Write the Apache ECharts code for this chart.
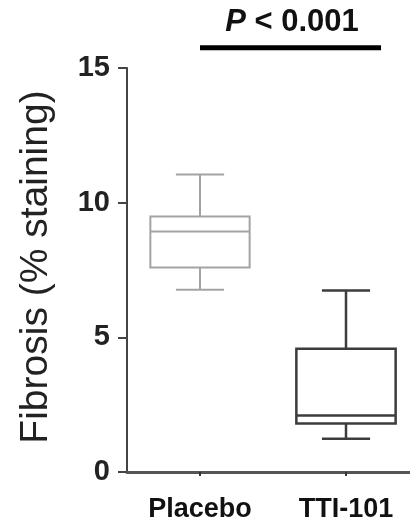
<!DOCTYPE html>
<html><head><meta charset="utf-8">
<script src="https://cdn.jsdelivr.net/npm/echarts@6/dist/echarts.min.js"></script>
<style>html,body{margin:0;padding:0;background:#fff}#c{width:410px;height:525px}</style>
</head><body><div id="c"></div>
<script>
// ---- data ----
const categories = ['Placebo', 'TTI-101'];
const whiskerLow = [6.77, 1.23];
const q1 = [7.59, 1.80];
const median = [8.93, 2.10];
const q3 = [9.49, 4.58];
const whiskerHigh = [11.05, 6.74];
const yMin = 0, yMax = 15, yInterval = 5;
const yAxisTitle = 'Fibrosis (% staining)';
const pText = 'P < 0.001';
const sigBarX = [0, 1.24];
const sigBarY = 15.75;

// ---- styles ----
const boxColors = ['#a3a3a3', '#3c3c3c'];
const boxLineWidths = [2, 2.5];

const boxData = categories.map((c, i) => [i, whiskerLow[i], q1[i], median[i], q3[i], whiskerHigh[i]]);

const chart = echarts.init(document.getElementById('c'), null, {renderer: 'canvas'});
chart.setOption({
  backgroundColor: '#fff',
  animation: false,
  grid: {left: 127, right: -9, top: 68, bottom: 53, outerBoundsMode: 'none', containLabel: false},
  xAxis: [{
    type: 'category', data: categories, boundaryGap: true,
    axisLine: {show: true, onZero: false, lineStyle: {color: '#555', width: 3}},
    axisTick: {show: true, alignWithLabel: true, length: 4, lineStyle: {color: '#333', width: 2}},
    axisLabel: {fontSize: 27, fontWeight: 'bold', color: '#111', margin: 24, fontFamily: 'Liberation Sans'},
    splitLine: {show: false}
  }, {
    type: 'value', min: -0.5, max: 1.5, show: false
  }],
  yAxis: {
    type: 'value', min: yMin, max: yMax, interval: yInterval,
    axisLine: {show: true, onZero: false, lineStyle: {color: '#444', width: 2}},
    axisTick: {show: true, length: 9, lineStyle: {color: '#444', width: 2}},
    axisLabel: {fontSize: 29, fontWeight: 'bold', color: '#222', margin: 17, fontFamily: 'Liberation Sans'},
    splitLine: {show: false}
  },
  graphic: [{
    type: 'text', x: 36, y: 267, rotation: Math.PI / 2,
    style: {text: yAxisTitle, font: '39px "Liberation Sans"', fill: '#222', textAlign: 'center', textVerticalAlign: 'middle'}
  }, {
    type: 'text', x: 292, y: 22,
    style: {
      text: '{i|P}{n|' + pText.slice(1) + '}',
      rich: {
        i: {fontSize: 31, fontWeight: 'bold', fontStyle: 'italic', fontFamily: 'Liberation Sans', fill: '#111'},
        n: {fontSize: 31, fontWeight: 'bold', fontFamily: 'Liberation Sans', fill: '#111'}
      },
      textAlign: 'center', textVerticalAlign: 'middle'
    }
  }],
  series: [{
    type: 'custom',
    xAxisIndex: 0,
    data: boxData,
    encode: {x: 0, y: [1, 2, 3, 4, 5]},
    clip: false,
    silent: true,
    renderItem: function (params, api) {
      const idx = api.value(0);
      const cx = api.coord([idx, 0])[0];
      const band = api.size([1, 0])[0];
      const boxW = band * 0.68, capW = band * 0.33;
      const yl = api.coord([idx, api.value(1)])[1];
      const yq1 = api.coord([idx, api.value(2)])[1];
      const ym = api.coord([idx, api.value(3)])[1];
      const yq3 = api.coord([idx, api.value(4)])[1];
      const yh = api.coord([idx, api.value(5)])[1];
      const style = {stroke: boxColors[idx], lineWidth: boxLineWidths[idx], fill: null};
      return {type: 'group', children: [
        {type: 'line', shape: {x1: cx, y1: yh, x2: cx, y2: yq3}, style: style},
        {type: 'line', shape: {x1: cx, y1: yq1, x2: cx, y2: yl}, style: style},
        {type: 'line', shape: {x1: cx - capW / 2, y1: yh, x2: cx + capW / 2, y2: yh}, style: style},
        {type: 'line', shape: {x1: cx - capW / 2, y1: yl, x2: cx + capW / 2, y2: yl}, style: style},
        {type: 'rect', shape: {x: cx - boxW / 2, y: yq3, width: boxW, height: yq1 - yq3}, style: style},
        {type: 'line', shape: {x1: cx - boxW / 2, y1: ym, x2: cx + boxW / 2, y2: ym}, style: style}
      ]};
    }
  }, {
    type: 'line',
    xAxisIndex: 1,
    data: [[sigBarX[0], sigBarY], [sigBarX[1], sigBarY]],
    symbol: 'none',
    clip: false,
    silent: true,
    lineStyle: {color: '#000', width: 5}
  }]
});
</script></body></html>
